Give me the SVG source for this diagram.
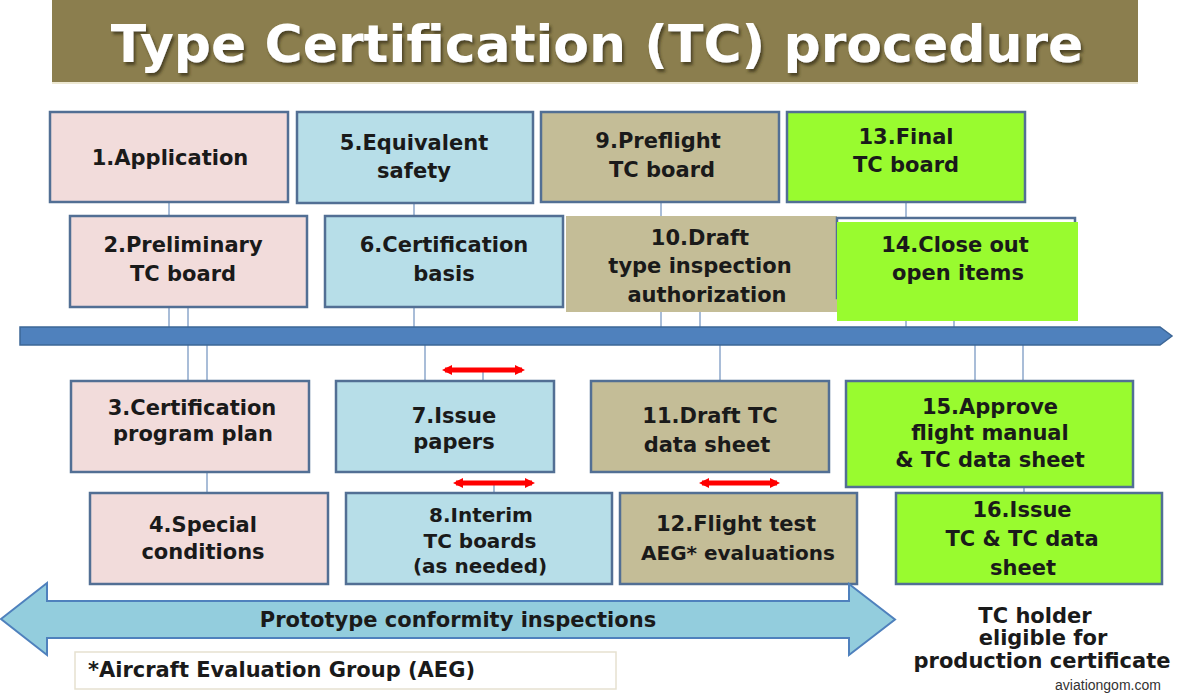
<svg xmlns="http://www.w3.org/2000/svg" width="1200" height="700" viewBox="0 0 1200 700">
  <defs>
    <style>
      .lbl { font-family: "DejaVu Sans", "Liberation Sans", sans-serif; font-weight: bold; font-size: 21px; fill: #1a1a1a; text-anchor: middle; }
      .sm { font-size: 20px; }
      .box { stroke: #526F94; stroke-width: 2.5; }
      .pink { fill: #F2DCDB; }
      .blue { fill: #B7DEE8; }
      .tan { fill: #C4BD97; }
      .green { fill: #99FB2F; }
      .conn { stroke: #A9BDD8; stroke-width: 2; fill: none; }
      .red { stroke: #FF0000; stroke-width: 5; fill: none; marker-start: url(#rh); marker-end: url(#rh); }
    </style>
    <marker id="rh" viewBox="0 0 10 10" refX="7" refY="5" markerWidth="10" markerHeight="10" markerUnits="userSpaceOnUse" orient="auto-start-reverse">
      <path d="M0,0 L10,5 L0,10 z" fill="#FF0000"/>
    </marker>
    <filter id="shadow" x="-5%" y="-20%" width="110%" height="140%">
      <feDropShadow dx="2" dy="3" stdDeviation="1.5" flood-color="#3a341c" flood-opacity="0.8"/>
    </filter>
  </defs>

  <g id="title">
    <rect x="52" y="0" width="1086" height="83" fill="#8B7E4E"/>
    <line x1="52" y1="83" x2="1138" y2="83" stroke="#EDE8D2" stroke-width="2"/>
    <text x="597" y="62" font-family="DejaVu Sans, Liberation Sans, sans-serif" font-weight="bold" font-size="52" fill="#FFFFFF" text-anchor="middle" filter="url(#shadow)">Type Certification (TC) procedure</text>
  </g>

  <g id="connectors">
    <line class="conn" x1="169" y1="202" x2="169" y2="216"/>
    <line class="conn" x1="169" y1="307" x2="169" y2="327"/>
    <line class="conn" x1="188" y1="307" x2="188" y2="327"/>
    <line class="conn" x1="414" y1="202" x2="414" y2="216"/>
    <line class="conn" x1="414" y1="307" x2="414" y2="327"/>
    <line class="conn" x1="661" y1="202" x2="661" y2="216"/>
    <line class="conn" x1="661" y1="312" x2="661" y2="327"/>
    <line class="conn" x1="700" y1="312" x2="700" y2="327"/>
    <line class="conn" x1="906" y1="202" x2="906" y2="218"/>
    <line class="conn" x1="906" y1="321" x2="906" y2="327"/>
    <line class="conn" x1="954" y1="321" x2="954" y2="327"/>
    <line class="conn" x1="188" y1="345" x2="188" y2="381"/>
    <line class="conn" x1="207" y1="345" x2="207" y2="381"/>
    <line class="conn" x1="207" y1="472" x2="207" y2="493"/>
    <line class="conn" x1="425" y1="345" x2="425" y2="381"/>
    <line class="conn" x1="483" y1="370" x2="483" y2="381"/>
    <line class="conn" x1="494" y1="483" x2="494" y2="493"/>
    <line class="conn" x1="720" y1="345" x2="720" y2="381"/>
    <line class="conn" x1="975" y1="345" x2="975" y2="381"/>
    <line class="conn" x1="1023" y1="345" x2="1023" y2="381"/>
    <line class="conn" x1="1024" y1="487" x2="1024" y2="493"/>
    <path id="timeline" d="M20,327 L1160,327 L1172,336 L1160,345 L20,345 Z" fill="#4F81BD" stroke="#3D6797" stroke-width="1.5"/>
    <path class="red" d="M445,370 L522,370"/>
    <path class="red" d="M456,483 L532,483"/>
    <path class="red" d="M702,483 L777,483"/>
  </g>

  <g id="n1"><rect class="box pink" x="50" y="112" width="238" height="90"/>
    <text class="lbl" x="170" y="165">1.Application</text></g>
  <g id="n2"><rect class="box pink" x="70" y="216" width="237" height="91"/>
    <text class="lbl" x="183" y="252">2.Preliminary</text><text class="lbl" x="183" y="281">TC board</text></g>
  <g id="n3"><rect class="box pink" x="71" y="381" width="238" height="91"/>
    <text class="lbl" x="192" y="415">3.Certification</text><text class="lbl" x="193" y="441">program plan</text></g>
  <g id="n4"><rect class="box pink" x="90" y="493" width="238" height="91"/>
    <text class="lbl" x="203" y="532">4.Special</text><text class="lbl" x="203" y="559">conditions</text></g>

  <g id="n5"><rect class="box blue" x="297" y="112" width="236" height="91"/>
    <text class="lbl" x="414" y="150">5.Equivalent</text><text class="lbl" x="414" y="178">safety</text></g>
  <g id="n6"><rect class="box blue" x="325" y="216" width="238" height="91"/>
    <text class="lbl" x="444" y="252">6.Certification</text><text class="lbl" x="444" y="281">basis</text></g>
  <g id="n7"><rect class="box blue" x="336" y="381" width="218" height="91"/>
    <text class="lbl" x="454" y="423">7.Issue</text><text class="lbl" x="454" y="449">papers</text></g>
  <g id="n8"><rect class="box blue" x="346" y="493" width="266" height="91"/>
    <text class="lbl sm" x="481" y="522">8.Interim</text><text class="lbl sm" x="480" y="548">TC boards</text><text class="lbl sm" x="480" y="573">(as needed)</text></g>

  <g id="n9"><rect class="box tan" x="541" y="112" width="238" height="90"/>
    <text class="lbl" x="658" y="148">9.Preflight</text><text class="lbl" x="662" y="177">TC board</text></g>
  <g id="n10"><rect class="tan" x="566" y="216" width="271" height="96"/>
    <text class="lbl" x="700" y="245">10.Draft</text><text class="lbl" x="700" y="273">type inspection</text><text class="lbl" x="707" y="302">authorization</text></g>
  <g id="n11"><rect class="box tan" x="591" y="381" width="238" height="91"/>
    <text class="lbl" x="710" y="423">11.Draft TC</text><text class="lbl" x="707" y="452">data sheet</text></g>
  <g id="n12"><rect class="box tan" x="620" y="493" width="237" height="91"/>
    <text class="lbl" x="736" y="531">12.Flight test</text><text class="lbl sm" x="738" y="560">AEG* evaluations</text></g>

  <g id="n13"><rect class="box green" x="787" y="112" width="238" height="90"/>
    <text class="lbl" x="906" y="144">13.Final</text><text class="lbl" x="906" y="172">TC board</text></g>
  <g id="n14"><rect class="box" fill="none" x="837" y="218" width="238" height="80"/>
    <rect class="green" x="837" y="222" width="241" height="99"/>
    <text class="lbl" x="955" y="252">14.Close out</text><text class="lbl" x="958" y="280">open items</text></g>
  <g id="n15"><rect class="box green" x="846" y="381" width="287" height="106"/>
    <text class="lbl" x="990" y="414">15.Approve</text><text class="lbl" x="990" y="440">flight manual</text><text class="lbl" x="990" y="467">&amp; TC data sheet</text></g>
  <g id="n16"><rect class="box green" x="896" y="493" width="266" height="91"/>
    <text class="lbl" x="1022" y="517">16.Issue</text><text class="lbl" x="1022" y="546">TC &amp; TC data</text><text class="lbl" x="1023" y="575">sheet</text></g>

  <g id="prototype">
    <path d="M1,619 L47,583 L47,601 L849,601 L849,584 L895,619.5 L849,655 L849,638 L47,638 L47,655 Z" fill="#93CDDD" stroke="#4F81BD" stroke-width="2"/>
    <text class="lbl" x="458" y="627" font-size="22">Prototype conformity inspections</text>
  </g>

  <g id="footnote">
    <rect x="75" y="652" width="541" height="37" fill="#FFFFFF" stroke="#E6E1D0" stroke-width="1.5"/>
    <text class="lbl" x="88" y="677" text-anchor="start" style="text-anchor:start" font-size="21">*Aircraft Evaluation Group (AEG)</text>
  </g>

  <g id="holder">
    <text class="lbl" x="1035" y="623">TC holder</text>
    <text class="lbl" x="1043" y="645">eligible for</text>
    <text class="lbl" x="1042" y="668">production certificate</text>
    <text x="1108" y="690" font-family="Liberation Sans, sans-serif" font-size="14" fill="#333333" text-anchor="middle">aviationgom.com</text>
  </g>
</svg>
